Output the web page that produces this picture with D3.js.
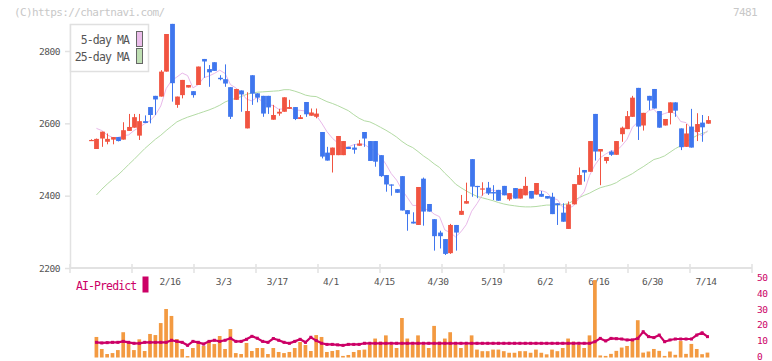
<!DOCTYPE html>
<html><head><meta charset="utf-8">
<script src="https://cdn.jsdelivr.net/npm/d3@7"></script>
<style>body{margin:0;background:#fff}svg{display:block}text{font-family:"DejaVu Sans Mono",monospace}</style>
</head><body><svg id="c" width="772" height="361"></svg>
<script>
// ---- data (one entry per trading day, index 0 .. 115) ----
const opens = [2554,2529,2558,2549,2555,2562,2555,2579,2588,2566,2606,2645,2676,2674,2743,2875,2651,2678,2699,2689,
2706,2778,2750,2769,2726,2722,2700,2665,2691,2586,2733,2683,2676,2676,2610,2627,2632,2640,2645,2612,
2659,2621,2618,2576,2519,2512,2512,2512,2535,2533,2538,2576,2551,2551,2512,2457,2431,2418,2454,2360,
2328,2319,2447,2377,2335,2298,2280,2241,2319,2347,2378,2501,2427,2418,2422,2410,2416,2427,2390,2421,
2392,2401,2413,2403,2405,2399,2397,2379,2353,2308,2376,2430,2471,2466,2626,2522,2496,2522,2513,2570,
2584,2618,2698,2594,2676,2695,2634,2594,2629,2658,2586,2535,2591,2576,2602,2599];
const closes = [2554,2557,2577,2557,2562,2551,2581,2590,2617,2606,2601,2623,2666,2743,2847,2711,2674,2720,2706,2678,
2757,2771,2741,2745,2722,2710,2618,2695,2680,2634,2682,2671,2627,2644,2623,2632,2672,2645,2612,2617,
2625,2630,2627,2508,2497,2533,2565,2551,2529,2527,2544,2558,2496,2494,2454,2431,2428,2408,2359,2349,
2323,2424,2356,2356,2288,2288,2239,2319,2298,2358,2385,2425,2425,2420,2406,2406,2386,2401,2407,2392,
2419,2427,2392,2435,2397,2392,2349,2374,2328,2376,2432,2457,2464,2551,2522,2529,2507,2513,2551,2588,
2620,2671,2591,2629,2663,2641,2588,2612,2658,2635,2534,2572,2533,2598,2589,2609];
const highs = [2556,2558,2577,2572,2562,2562,2603,2626,2626,2626,2622,2645,2676,2747,2847,2875,2674,2720,2706,2689,
2757,2778,2761,2769,2733,2763,2700,2695,2691,2686,2733,2683,2676,2676,2651,2640,2672,2665,2645,2623,
2659,2641,2641,2576,2535,2533,2565,2551,2535,2542,2554,2576,2551,2551,2512,2457,2431,2418,2454,2360,
2354,2424,2450,2377,2335,2303,2280,2322,2319,2402,2436,2501,2427,2437,2438,2429,2416,2427,2407,2421,
2419,2452,2413,2435,2413,2399,2408,2379,2379,2384,2432,2478,2471,2551,2626,2529,2507,2525,2551,2591,
2634,2676,2698,2629,2676,2695,2634,2612,2658,2658,2586,2598,2640,2628,2623,2620];
const lows = [2552,2529,2535,2542,2542,2550,2555,2579,2588,2554,2601,2600,2623,2674,2743,2660,2643,2669,2699,2671,
2706,2726,2701,2745,2719,2701,2612,2665,2632,2586,2651,2658,2618,2626,2610,2621,2632,2640,2609,2612,
2618,2621,2614,2503,2497,2464,2512,2512,2529,2516,2538,2535,2496,2480,2452,2411,2400,2408,2359,2303,
2323,2319,2317,2356,2248,2254,2236,2239,2248,2347,2378,2397,2393,2400,2402,2388,2386,2401,2386,2392,
2392,2401,2392,2403,2397,2392,2349,2319,2328,2308,2376,2430,2439,2466,2497,2429,2489,2510,2513,2549,
2584,2618,2554,2580,2637,2641,2588,2594,2597,2618,2526,2535,2533,2551,2549,2599];
const ma5 = [null,2586,2580,2568,2561,2561,2566,2568,2580,2589,2599,2607,2623,2648,2696,2718,2728,2739,2732,2698,
2707,2726,2731,2738,2747,2738,2707,2698,2685,2667,2662,2672,2659,2652,2649,2639,2640,2643,2637,2636,
2634,2626,2622,2601,2577,2559,2546,2531,2535,2541,2543,2542,2531,2524,2509,2487,2461,2443,2416,2395,
2373,2373,2362,2362,2349,2342,2305,2298,2286,2300,2320,2357,2378,2403,2412,2416,2409,2404,2401,2398,
2401,2409,2407,2413,2414,2409,2393,2389,2368,2364,2372,2393,2411,2456,2485,2505,2515,2524,2524,2538,
2556,2589,2604,2620,2635,2639,2622,2627,2632,2627,2605,2602,2586,2574,2565,2580];
const ma25 = [null,2402,2418,2432,2445,2457,2471,2486,2500,2515,2530,2543,2556,2567,2580,2592,2604,2611,2617,2622,
2627,2632,2637,2643,2650,2659,2665,2669,2674,2680,2684,2686,2687,2688,2689,2690,2693,2693,2689,2684,
2678,2675,2674,2667,2660,2655,2649,2642,2635,2624,2614,2607,2604,2597,2589,2581,2572,2562,2550,2540,
2533,2522,2510,2500,2488,2478,2462,2448,2432,2422,2413,2405,2398,2394,2390,2386,2381,2377,2374,2372,
2370,2369,2369,2370,2372,2374,2374,2374,2375,2378,2386,2394,2401,2407,2415,2422,2426,2430,2436,2446,
2453,2461,2471,2480,2490,2500,2504,2510,2520,2530,2538,2548,2558,2566,2572,2577];
const volume = [0,13,5.4,2.2,2.8,4.7,16,9.8,4.7,11.5,4.1,14.9,14.2,21.8,30.7,26.3,11.7,5.4,0.9,6,
9.4,7.3,9.8,8.5,13.6,5.4,18,2.8,2.2,9.2,4.1,6,6,2.2,6,3.5,2.8,3.5,6,9.8,
7.9,4.1,14.2,13,3.5,4.1,4.7,1,1.6,3.5,4.7,5,8,12,10,14,8,6,25,12,
8,14,8,6,20,10,12,16,8,6,8,14,5,4,4,5,5,4,3,3,
4,4,3,5,3,2,5,4,6,12,10,8,6,14,49,1.3,1,2.3,4.2,6.3,
7.3,10.4,23.6,3.1,3.8,5.4,4.2,1,3.8,1.7,10.4,2.3,8.6,5.4,2.1,3.1];
const aiPredict = [null,9.6,9.2,9.4,9.6,9.6,10.2,9.6,9,9,9.6,9.6,9.6,9.6,9.6,10.9,10.2,9.6,7.7,10.2,
9.6,8.5,10.2,10.9,10.2,10.9,12.2,10.2,10.2,11.5,13.4,12.2,10.2,9.6,12,10.9,9.6,9,10.2,11.5,
9.6,12.8,10.7,9,8.3,8.3,8,7.7,8.3,8.3,8.3,9,9,9,9,9,9,9,9,9,
9,9,9,9,9,9,9,9,9,9,9,9,9,9,9,9,9,9,9,9,
9,9,9,9,9,9,9,9,9,9,9,9,9,9,10,12.1,10.5,12.1,11.9,11.7,
11.1,11.1,12.1,16.3,13.2,12.6,14.2,10,11.1,11.7,11.7,11.7,11.7,14.2,15.6,13.2];
const dateLabels = ["2/16","3/3","3/17","4/1","4/15","4/30","5/19","6/2","6/16","6/30","7/14"];
const dateLabelIdx = [15,25,35,45,55,65,75,85,95,105,115];
const priceTicks = [2200,2400,2600,2800];
const volTicks = [0,10,20,30,40,50];

// ---- drawing ----
const svg = d3.select("#c");
const N = closes.length;
const x = d3.scaleLinear().domain([0, N-1]).range([91.1, 707.5]);
const y = d3.scaleLinear().domain([2200, 2800]).range([268, 51]);
const grid = d3.scaleLinear().domain([0, 11]).range([70, 752]);
const yv = d3.scaleLinear().domain([0, 50]).range([357.5, 278.5]);
const RED = "#f15441", BLUE = "#3f76ee", AXIS = "#e2e2e2", LBL = "#555";

svg.append("text").attr("x", 14).attr("y", 16).attr("font-size", 11).attr("letter-spacing", -0.6)
  .attr("fill", "#c8c8c8").text("(C)https://chartnavi.com/");
svg.append("text").attr("x", 757).attr("y", 16).attr("font-size", 11).attr("letter-spacing", -0.6)
  .attr("text-anchor", "end").attr("fill", "#c8c8c8").text("7481");

// axes frame
svg.append("line").attr("x1", 70.5).attr("x2", 70.5).attr("y1", 24).attr("y2", 268).attr("stroke", AXIS).attr("stroke-width", 1.5);
svg.append("line").attr("x1", 70).attr("x2", 752).attr("y1", 268).attr("y2", 268).attr("stroke", AXIS).attr("stroke-width", 2);
svg.append("g").selectAll("line").data(d3.range(12)).join("line")
  .attr("x1", d => grid(d)).attr("x2", d => grid(d)).attr("y1", 264).attr("y2", 273)
  .attr("stroke", AXIS).attr("stroke-width", 1.5);

const yAxis = svg.append("g").attr("transform", "translate(70,0)")
  .call(d3.axisLeft(y).tickValues(priceTicks).tickSize(5).tickPadding(5).tickFormat(d3.format("d")));
yAxis.select(".domain").remove();
yAxis.selectAll("line").attr("stroke", AXIS).attr("stroke-width", 1.5);
yAxis.selectAll("text").attr("fill", LBL).attr("font-size", 9.5).attr("font-family", "DejaVu Sans Mono").attr("letter-spacing", -0.5);

svg.append("g").selectAll("text").data(dateLabels).join("text")
  .attr("x", (d, i) => x(dateLabelIdx[i]) - 1.5).attr("y", 285).attr("text-anchor", "middle")
  .attr("font-size", 9.5).attr("letter-spacing", -0.5).attr("fill", LBL).text(d => d);

// moving averages
const line = d3.line().defined(d => d[1] != null).x(d => x(d[0])).y(d => y(d[1]));
svg.append("path").attr("d", line(ma25.map((v, i) => [i, v]))).attr("fill", "none").attr("stroke", "#b3dba4").attr("stroke-width", 1);
svg.append("path").attr("d", line(ma5.map((v, i) => [i, v]))).attr("fill", "none").attr("stroke", "#e9b9ea").attr("stroke-width", 1);

// candles
const cg = svg.append("g");
const idx = d3.range(N);
cg.selectAll("line").data(idx).join("line")
  .attr("x1", i => Math.round(x(i)) + 0.5).attr("x2", i => Math.round(x(i)) + 0.5)
  .attr("y1", i => y(highs[i])).attr("y2", i => y(lows[i]))
  .attr("stroke", i => closes[i] >= opens[i] ? RED : BLUE).attr("stroke-width", 1);
cg.selectAll("rect").data(idx).join("rect")
  .attr("x", i => Math.round(x(i)) + 0.5 - 2.4).attr("width", 4.8)
  .attr("y", i => y(Math.max(opens[i], closes[i])))
  .attr("height", i => Math.max(1.2, Math.abs(y(opens[i]) - y(closes[i]))))
  .attr("fill", i => closes[i] >= opens[i] ? RED : BLUE);

// legend
const lg = svg.append("g");
lg.append("rect").attr("x", 70.5).attr("y", 24.5).attr("width", 78).attr("height", 47).attr("fill", "#fff").attr("stroke", "#e0e0e0").attr("stroke-width", 1.5);
[["5-day MA", "#ebbdea", 44], ["25-day MA", "#bfdfb3", 61]].forEach(([t, c, yy]) => {
  lg.append("text").attr("x", 129).attr("y", yy).attr("text-anchor", "end").attr("font-size", 11.5)
    .attr("letter-spacing", -0.9).attr("fill", "#555").text(t);
  lg.append("rect").attr("x", 136.5).attr("y", yy - 12.5).attr("width", 6).attr("height", 15)
    .attr("fill", c).attr("stroke", "#666").attr("stroke-width", 1);
});

// AI predict panel
svg.append("text").attr("x", 76).attr("y", 290).attr("font-size", 11.5).attr("letter-spacing", -0.9)
  .attr("fill", "#cc0066").text("AI-Predict");
svg.append("rect").attr("x", 142.5).attr("y", 276.5).attr("width", 6).attr("height", 16).attr("fill", "#cc0066");

svg.append("g").selectAll("rect").data(idx.filter(i => volume[i] > 0)).join("rect")
  .attr("x", i => x(i) - 1.9).attr("width", 3.7)
  .attr("y", i => yv(volume[i])).attr("height", i => yv(0) - yv(volume[i]))
  .attr("fill", "#f39a41");

const aline = d3.line().defined(d => d[1] != null).x(d => x(d[0])).y(d => yv(d[1]));
svg.append("path").attr("d", aline(aiPredict.map((v, i) => [i, v]))).attr("fill", "none")
  .attr("stroke", "#cc0066").attr("stroke-width", 2.2);
svg.append("g").selectAll("rect").data(idx.filter(i => aiPredict[i] != null)).join("rect")
  .attr("x", i => x(i) - 1.5).attr("y", i => yv(aiPredict[i]) - 1.5).attr("width", 3).attr("height", 3)
  .attr("fill", "#cc0066");

svg.append("g").selectAll("text").data(volTicks).join("text")
  .attr("x", 757).attr("y", d => yv(d) + 2.5).attr("font-size", 9.5).attr("letter-spacing", -0.5)
  .attr("fill", "#cc0066").text(d => d);
</script></body></html>
